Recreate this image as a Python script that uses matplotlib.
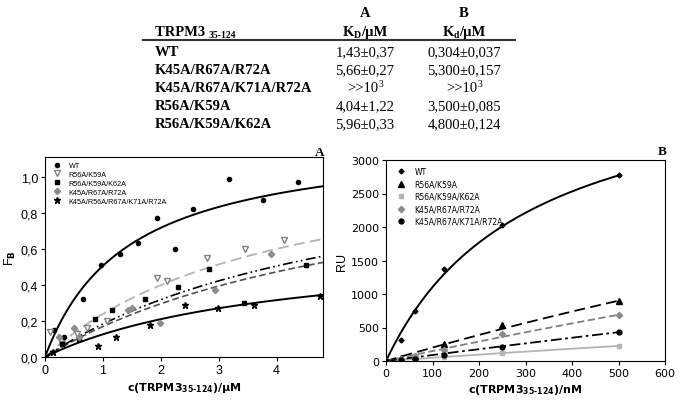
import numpy as np
import matplotlib
matplotlib.use("Agg")
import matplotlib.pyplot as plt
from matplotlib.lines import Line2D
from matplotlib.ticker import FuncFormatter

W, H = 685, 402

# ---- table ----
row_names = ["WT", "K45A/R67A/R72A", "K45A/R67A/K71A/R72A", "R56A/K59A", "R56A/K59A/K62A"]
kd_a = ["1,43\u00b10,37", "5,66\u00b10,27", ">>10", "4,04\u00b11,22", "5,96\u00b10,33"]
kd_b = ["0,304\u00b10,037", "5,300\u00b10,157", ">>10", "3,500\u00b10,085", "4,800\u00b10,124"]

# ---- panel A: fluorescence binding (uM, F_B) ----
a_labels = ["WT", "R56A/K59A", "R56A/K59A/K62A", "K45A/R67A/R72A", "K45A/R56A/R67A/K71A/R72A"]
a_x = [
    [0, 0.16, 0.33, 0.65, 0.97, 1.30, 1.61, 1.93, 2.25, 2.55, 3.17, 3.77, 4.37],
    [0.09, 0.30, 0.55, 0.73, 1.07, 1.93, 2.11, 2.80, 3.46, 4.13],
    [0, 0.30, 0.59, 0.87, 1.15, 1.73, 2.30, 2.84, 3.43, 4.50],
    [0.25, 0.50, 0.59, 1.43, 1.50, 1.99, 2.94, 3.91],
    [0.14, 0.91, 1.22, 1.81, 2.42, 2.99, 3.60, 4.74],
]
a_y = [
    [0, 0.15, 0.11, 0.32, 0.51, 0.57, 0.63, 0.77, 0.60, 0.82, 0.99, 0.87, 0.97],
    [0.14, 0.07, 0.13, 0.16, 0.20, 0.44, 0.42, 0.55, 0.60, 0.65],
    [0, 0.07, 0.10, 0.21, 0.26, 0.32, 0.39, 0.49, 0.30, 0.51],
    [0.11, 0.16, 0.11, 0.26, 0.27, 0.19, 0.37, 0.57],
    [0.03, 0.06, 0.11, 0.18, 0.29, 0.27, 0.29, 0.34],
]
# hyperbolic fit parameters (Bmax, Kd)
a_bmax = [1.23, 1.206, 1.177, 1.22, 0.635]
a_kd = [1.43, 4.04, 5.96, 5.66, 4.04]

# ---- panel B: SPR (nM, RU) ----
b_labels = ["WT", "R56A/K59A", "R56A/K59A/K62A", "K45A/R67A/R72A", "K45A/R67A/K71A/R72A"]
b_x = [
    [0, 31.25, 62.5, 125, 250, 500],
    [0, 31.25, 62.5, 125, 250, 500],
    [0, 31.25, 62.5, 125, 250, 500],
    [0, 31.25, 62.5, 125, 250, 500],
    [0, 31.25, 62.5, 125, 250, 500],
]
b_y = [
    [0, 320, 740, 1380, 2030, 2770],
    [0, 40, 80, 250, 530, 895],
    [0, 10, 20, 60, 115, 225],
    [0, 30, 70, 170, 410, 690],
    [0, 10, 30, 85, 210, 430],
]
b_bmax = [4454, 7200, 2385, 8004, 9030]
b_kd = [304, 3500, 4800, 5300, 10000]

plt.rcParams['mathtext.default'] = 'bf'
fig = plt.figure(figsize=(W / 100, H / 100), dpi=100)
renderer = fig.canvas.get_renderer()


def rich(x, y, parts, ha='left', family='Liberation Serif'):
    # parts: (text, size, weight, dy in px)
    texts = []
    cur = x
    for s, size, weight, dy in parts:
        t = fig.text(cur / W, 1 - (y + dy) / H, s, fontsize=size, fontweight=weight,
                     family=family, va='baseline', ha='left')
        cur += t.get_window_extent(renderer).width
        texts.append(t)
    if ha == 'center':
        shift = (cur - x) / 2
        for t in texts:
            px, py = t.get_position()
            t.set_position((px - shift / W, py))


# table
FS = 10.5
col_a, col_b = 365, 464
rich(col_a, 17, [("A", FS, 'bold', 0)], ha='center')
rich(col_b, 17, [("B", FS, 'bold', 0)], ha='center')
rich(155, 36, [("TRPM3 ", FS, 'bold', 0), ("35-124", 7, 'bold', 2)])
rich(col_a, 36, [("K", FS, 'bold', 0), ("D", 7, 'bold', 2), ("/\u00b5M", FS, 'bold', 0)], ha='center')
rich(col_b, 36, [("K", FS, 'bold', 0), ("d", 7, 'bold', 2), ("/\u00b5M", FS, 'bold', 0)], ha='center')
fig.add_artist(Line2D([143 / W, 515 / W], [1 - 41 / H, 1 - 41 / H], color='#333333', lw=1.5))
row_y = [56, 74, 92, 110, 128]
for name, va_, vb_, ry in zip(row_names, kd_a, kd_b, row_y):
    rich(155, ry, [(name, FS, 'bold', 0)])
    if va_.startswith(">>"):
        rich(col_a, ry, [(va_, FS, 'normal', 0), ("3", 7, 'normal', -5)], ha='center')
        rich(col_b, ry, [(vb_, FS, 'normal', 0), ("3", 7, 'normal', -5)], ha='center')
    else:
        rich(col_a, ry, [(va_, FS, 'normal', 0)], ha='center')
        rich(col_b, ry, [(vb_, FS, 'normal', 0)], ha='center')

# ---- panel A ----
axA = fig.add_axes([45 / W, 1 - 358 / H, 278 / W, 200 / H])
a_mk = [dict(marker='o', ms=3, color='black'),
        dict(marker='v', ms=4.5, mfc='white', mec='#808080', color='#808080'),
        dict(marker='s', ms=3.5, color='black'),
        dict(marker='D', ms=3.2, color='#8c8c8c'),
        dict(marker='*', ms=5, color='black')]
a_ls = [dict(color='black', lw=1.4, ls='-'),
        dict(color='#b4b4b4', lw=1.3, ls=(0, (6, 3))),
        dict(color='#505050', lw=1.2, ls=(0, (4, 2))),
        dict(color='black', lw=1.2, ls=(0, (6, 2, 1, 2, 1, 2))),
        dict(color='black', lw=1.4, ls='-')]
xs = np.linspace(0, 4.8, 200)
handles = []
for i in range(5):
    axA.plot(xs, a_bmax[i] * xs / (a_kd[i] + xs), **a_ls[i], zorder=2)
    axA.plot(a_x[i], a_y[i], ls='none', **a_mk[i], zorder=3)
    handles.append(Line2D([], [], ls='none', **a_mk[i], label=a_labels[i]))
axA.plot([0], [0], marker='*', ms=5, color='black', ls='none')
axA.set_xlim(0, 4.8)
axA.set_ylim(0, 1.11)
axA.set_xticks([0, 1, 2, 3, 4])
axA.set_yticks([0, 0.2, 0.4, 0.6, 0.8, 1.0])
axA.yaxis.set_major_formatter(FuncFormatter(lambda v, p: ("%.1f" % v).replace('.', ',')))
axA.tick_params(direction='out', length=3, width=0.8, labelsize=9, pad=2)
for lab in axA.get_xticklabels() + axA.get_yticklabels():
    lab.set_family('Liberation Sans')
axA.set_xlabel("c(TRPM3$_{35\u2010124}$)/\u00b5M", fontsize=8, fontweight='bold', labelpad=3)
axA.set_ylabel("F$_B$", fontsize=9, family='Liberation Sans', labelpad=2)
axA.legend(handles=handles, loc='upper left', frameon=False,
           handletextpad=0.6, labelspacing=0.25, borderaxespad=0.3,
           prop={'family': 'Liberation Sans', 'size': 5.2})
fig.text(320 / W, 1 - 156 / H, "A", fontsize=9.5, fontweight='bold', family='Liberation Serif', ha='center')

# ---- panel B ----
axB = fig.add_axes([386 / W, 1 - 362 / H, 279 / W, 201 / H])
b_mk = [dict(marker='D', ms=2.5, color='black'),
        dict(marker='^', ms=4, color='black'),
        dict(marker='s', ms=3.5, color='#b4b4b4'),
        dict(marker='D', ms=3.2, color='#8c8c8c'),
        dict(marker='o', ms=3.5, color='black')]
b_ls = [dict(color='black', lw=1.4, ls='-'),
        dict(color='black', lw=1.3, ls=(0, (6, 3))),
        dict(color='#b4b4b4', lw=1.3, ls='-'),
        dict(color='#808080', lw=1.3, ls=(0, (4, 2))),
        dict(color='black', lw=1.3, ls=(0, (6, 2, 1.5, 2)))]
xs = np.linspace(0, 500, 200)
handles = []
for i in range(5):
    axB.plot(xs, b_bmax[i] * xs / (b_kd[i] + xs), **b_ls[i], zorder=2)
    axB.plot(b_x[i], b_y[i], ls='none', **b_mk[i], zorder=3)
    handles.append(Line2D([], [], ls='none', **b_mk[i], label=b_labels[i]))
axB.set_xlim(0, 600)
axB.set_ylim(0, 3000)
axB.set_xticks(range(0, 601, 100))
axB.set_yticks(range(0, 3001, 500))
axB.tick_params(direction='out', length=3, width=0.8, labelsize=8, pad=2)
axB.set_xlabel("c(TRPM3$_{35\u2010124}$)/nM", fontsize=8, fontweight='bold', labelpad=3)
axB.set_ylabel("RU", fontsize=9, family='Liberation Sans', labelpad=2)
axB.legend(handles=handles, loc='upper left', frameon=False,
           handletextpad=0.8, labelspacing=0.45, borderaxespad=0.5,
           prop={'family': 'DejaVu Sans', 'size': 5.5})
fig.text(662 / W, 1 - 155 / H, "B", fontsize=9.5, fontweight='bold', family='Liberation Serif', ha='center')

fig.savefig("out.png", dpi=100)
